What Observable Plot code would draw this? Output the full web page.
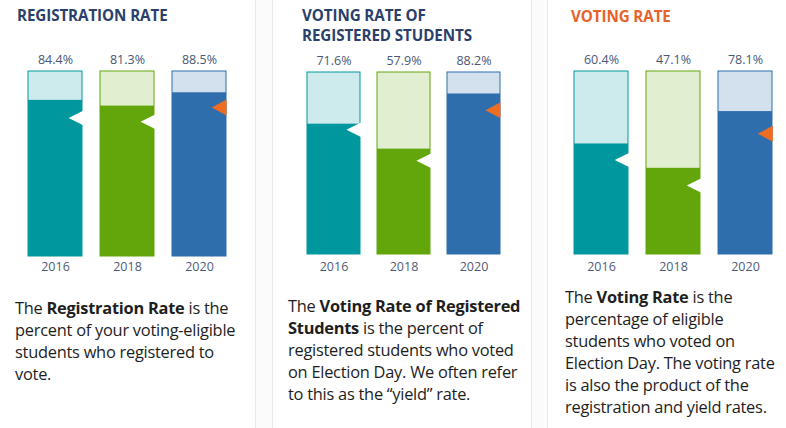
<!DOCTYPE html>
<html><head><meta charset="utf-8">
<script src="https://cdn.jsdelivr.net/npm/d3@7"></script>
<script src="https://cdn.jsdelivr.net/npm/@observablehq/plot@0.6"></script>
<style>
body{margin:0;background:#fff;font-family:"Open Sans",sans-serif;}
#wrap{position:relative;width:786px;height:428px;overflow:hidden;background:#fff;}
.gap{position:absolute;top:0;height:428px;background:#fbfbfc;border-left:1px solid #e6e8ec;border-right:1px solid #e6e8ec;box-sizing:border-box;}
.title{position:absolute;font-weight:700;font-size:15.2px;line-height:20px;color:#2b3f6b;letter-spacing:-0.1px;white-space:nowrap;}
.para{position:absolute;font-size:16.4px;line-height:22px;color:#1e1e1e;letter-spacing:-0.25px;white-space:nowrap;}
.para b{font-weight:700;}
.panel{position:absolute;top:0;}
</style></head>
<body><div id="wrap">
<div class="gap" style="left:255px;width:18px"></div>
<div class="gap" style="left:531px;width:17px"></div>
<div class="title" style="left:17px;top:5px">REGISTRATION RATE</div>
<div class="title" style="left:302px;top:5px">VOTING RATE OF<br>REGISTERED STUDENTS</div>
<div class="title" style="left:571px;top:6px;color:#e8622a">VOTING RATE</div>
<div class="para" style="left:15px;top:297px">The <b>Registration Rate</b> is the<br>percent of your voting-eligible<br>students who registered to<br>vote.</div>
<div class="para" style="left:288px;top:295px">The <b>Voting Rate of Registered<br>Students</b> is the percent of<br>registered students who voted<br>on Election Day. We often refer<br>to this as the “yield” rate.</div>
<div class="para" style="left:565px;top:286px">The <b>Voting Rate</b> is the<br>percentage of eligible<br>students who voted on<br>Election Day. The voting rate<br>is also the product of the<br>registration and yield rates.</div>
</div>
<script>
const years = ["2016", "2018", "2020"];
const registrationRate = [84.4, 81.3, 88.5];
const yieldRate = [71.6, 57.9, 88.2];
const votingRate = [60.4, 47.1, 78.1];
const registrationMarker = [74.8, 72.8, 80.6];
const yieldMarker = [68.5, 51.5, 79.2];
const votingMarker = [51.7, 37.7, 66.0];
const markerKind = ["notch", "notch", "flag"];

const dark = ["#00979e", "#63a60c", "#2f6ead"];
const light = ["#cdeaec", "#e1efd0", "#d3e0ee"];
const orange = "#ef6c23";
const fmt = d3.format(".1f");

const panels = [
  {left: 0, width: 255, xr: [27, 226], yr: [256, 71], values: registrationRate, markers: registrationMarker},
  {left: 272, width: 259, xr: [34, 228], yr: [254, 72], values: yieldRate, markers: yieldMarker},
  {left: 547, width: 239, xr: [26, 226.5], yr: [254, 71], values: votingRate, markers: votingMarker}
];

function triSymbol(w, h) {
  return {draw(ctx) { ctx.moveTo(0, -h / 2); ctx.lineTo(-w, 0); ctx.lineTo(0, h / 2); ctx.closePath(); }};
}

const pad = 0.25;
panels.forEach(p => {
  const data = years.map((y, i) => ({year: y, value: p.values[i], marker: p.markers[i], kind: markerKind[i], i}));
  const bw = (p.xr[1] - p.xr[0]) / (years.length - pad) * (1 - pad);
  const notches = data.filter(d => d.kind === "notch");
  const flags = data.filter(d => d.kind === "flag");
  const chart = Plot.plot({
    width: p.width, height: 280,
    style: {fontFamily: "Open Sans, sans-serif", background: "transparent", color: "#4f5b78", overflow: "visible"},
    x: {type: "band", domain: years, range: p.xr, paddingInner: pad, paddingOuter: 0, axis: null},
    y: {domain: [0, 100], range: p.yr, axis: null},
    marks: [
      Plot.barY(data, {x: "year", y1: 0, y2: 100, fill: d => light[d.i], stroke: d => dark[d.i], strokeWidth: 1}),
      Plot.barY(data, {x: "year", y1: 0, y2: "value", fill: d => dark[d.i]}),
      Plot.dot(notches, {x: "year", y: "marker", r: 5, symbol: triSymbol(15, 15), dx: bw / 2 + 1, fill: "white", stroke: "none"}),
      Plot.dot(flags, {x: "year", y: "marker", r: 5, symbol: triSymbol(15, 16), dx: bw / 2, fill: orange, stroke: "none"}),
      Plot.text(data, {x: "year", y: 100, text: d => fmt(d.value) + "%", dy: -12, fontSize: 12.5, fill: "#4a5775"}),
      Plot.axisX({tickSize: 0, tickPadding: 12, fontSize: 12.5, fill: "#4f5b78", label: null})
    ]
  });
  chart.classList.add("panel");
  chart.style.left = p.left + "px";
  document.getElementById("wrap").appendChild(chart);
});
</script>
</body></html>
